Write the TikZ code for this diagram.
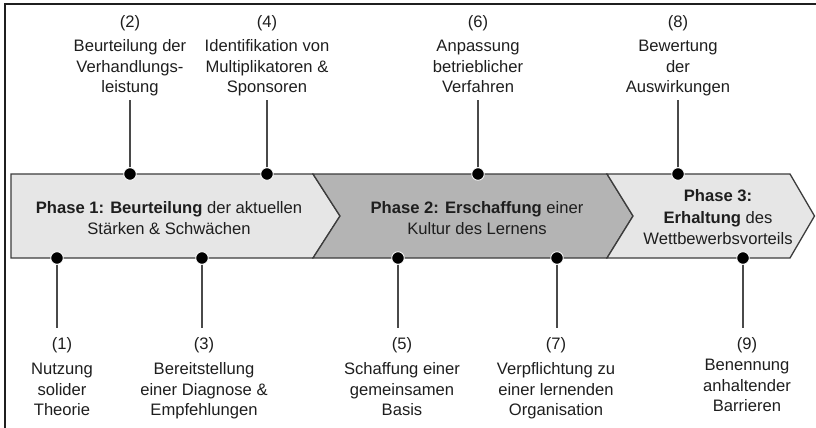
\documentclass[tikz,border=0pt]{standalone}
\usepackage{fontspec}
\setmainfont{Liberation Sans}
\definecolor{lightphase}{HTML}{E6E6E6}
\definecolor{darkphase}{HTML}{B4B4B4}
\definecolor{edgegray}{HTML}{3C3C3C}
\definecolor{stemgray}{HTML}{4A4A4A}
\definecolor{txtcol}{HTML}{1E1E1E}
\newcommand\lblfont{\fontsize{16.6}{20.3}\selectfont}
\newcommand\phfont{\fontsize{16.6}{21.5}\selectfont}
\begin{document}
\begin{tikzpicture}[x=1pt,y=-1pt,
  phaseedge/.style={draw=edgegray, line width=1.3pt, line join=miter},
  lbl/.style={font=\lblfont, align=center, inner sep=0pt, text=txtcol},
  phtext/.style={font=\phfont, align=center, inner sep=0pt, text=txtcol},
  dot/.style={circle, fill=black, draw=white, line width=0.8pt, minimum size=12.5pt, inner sep=0pt},
  stem/.style={draw=stemgray, line width=1.3pt}]
\useasboundingbox (0,0) rectangle (816,428);

% outer frame (only top and left edges fall inside the page)
\draw[line width=1.6pt, draw=black!88] (5,440) -- (5,4) -- (830,4);

% the three phase chevrons
\path[phaseedge, fill=lightphase] (11,174) -- (313,174) -- (340,216) -- (313,258) -- (11,258) -- cycle;
\path[phaseedge, fill=darkphase] (313,174) -- (607,174) -- (633,216) -- (607,258) -- (313,258) -- (340,216) -- cycle;
\path[phaseedge, fill=lightphase] (607,174) -- (790,174) -- (814.5,216) -- (790,258) -- (607,258) -- (633,216) -- cycle;

% phase captions
\node[phtext] (p1) at (169,219.5) {\strut\textbf{Phase 1: Beurteilung} der aktuellen\\\strut Stärken \& Schwächen};
\node[phtext] (p2) at (477,219.5) {\strut\textbf{Phase 2: Erschaffung} einer\\\strut Kultur des Lernens};
\node[phtext] (p3) at (718,219) {\strut\textbf{Phase 3:}\\\strut\textbf{Erhaltung} des\\\strut Wettbewerbsvorteils};

% labels above the band
\node[lbl, anchor=north] (l2) at (130,13) {\strut(2)\\[4pt]\strut Beurteilung der\\\strut Verhandlungs-\\\strut leistung};
\node[lbl, anchor=north] (l4) at (267,13) {\strut(4)\\[4pt]\strut Identifikation von\\\strut Multiplikatoren \&\\\strut Sponsoren};
\node[lbl, anchor=north] (l6) at (478,13) {\strut(6)\\[4pt]\strut Anpassung\\\strut betrieblicher\\\strut Verfahren};
\node[lbl, anchor=north] (l8) at (678,13) {\strut(8)\\[4pt]\strut Bewertung\\\strut der\\\strut Auswirkungen};

% labels below the band
\node[lbl, anchor=north] (l1) at (62,335) {\strut(1)\\[5pt]\strut Nutzung\\\strut solider\\\strut Theorie};
\node[lbl, anchor=north] (l3) at (204,335) {\strut(3)\\[5pt]\strut Bereitstellung\\\strut einer Diagnose \&\\\strut Empfehlungen};
\node[lbl, anchor=north] (l5) at (402,335) {\strut(5)\\[5pt]\strut Schaffung einer\\\strut gemeinsamen\\\strut Basis};
\node[lbl, anchor=north] (l7) at (556,335) {\strut(7)\\[5pt]\strut Verpflichtung zu\\\strut einer lernenden\\\strut Organisation};
\node[lbl, anchor=north] (l9) at (747,335) {\strut(9)\\[1pt]\strut Benennung\\\strut anhaltender\\\strut Barrieren};

% marker dots on the band edges
\node[dot] (m2) at (130,174) {};
\node[dot] (m4) at (267,174) {};
\node[dot] (m6) at (478,174) {};
\node[dot] (m8) at (678,174) {};
\node[dot] (m1) at (57,258) {};
\node[dot] (m3) at (202,258) {};
\node[dot] (m5) at (398,258) {};
\node[dot] (m7) at (557,258) {};
\node[dot] (m9) at (743,258) {};

% stems from markers to their labels
\foreach \i in {2,4,6,8} \draw[stem, shorten >=1pt] (m\i.north) -- (m\i |- l\i.south);
\foreach \i in {1,3,5,7,9} \draw[stem, shorten >=7pt] (m\i.south) -- (m\i |- l\i.north);
\end{tikzpicture}
\end{document}
